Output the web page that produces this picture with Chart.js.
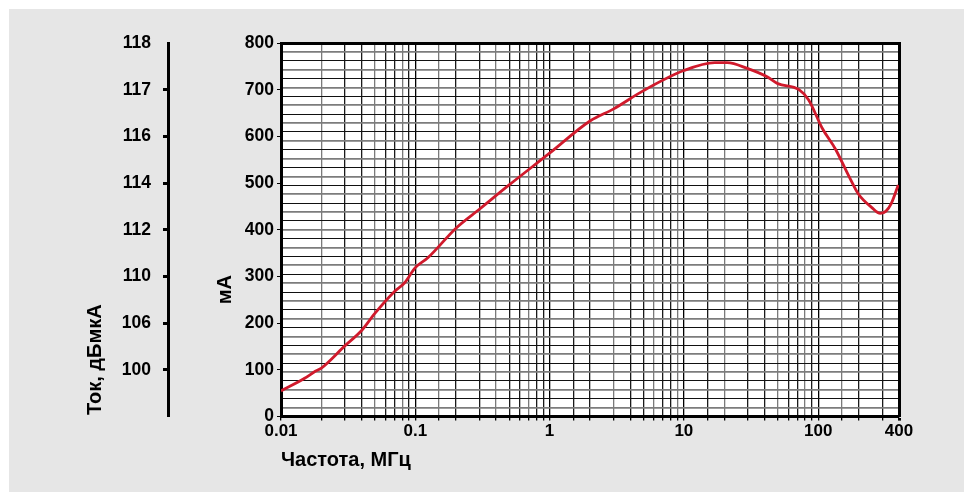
<!DOCTYPE html>
<html>
<head>
<meta charset="utf-8">
<script src="https://cdn.jsdelivr.net/npm/chart.js"></script>
<style>
  html, body { margin: 0; padding: 0; background: #ffffff; }
  #wrap { width: 964px; height: 492px; }
</style>
</head>
<body>
<div id="wrap"><canvas id="chart" width="964" height="492"></canvas></div>
<script>
// frequency, MHz
const freqMHz = [0.01, 0.015, 0.018, 0.02, 0.03, 0.04, 0.05, 0.07, 0.083, 0.1, 0.124, 0.2, 0.3, 0.5, 1, 2, 3, 5, 10, 17, 21, 30, 42, 50, 72, 85, 107, 135, 170, 200, 250, 290, 320, 350, 395];
// current, mA
const currentMa = [55, 82, 97, 104, 152, 185, 221, 268, 286, 319, 340, 403, 444, 496, 564, 633, 659, 698, 741, 758, 758, 745, 727, 713, 700, 678, 618, 572, 514, 476, 448, 435, 440, 456, 496];

const xLabels = [0.01, 0.1, 1, 10, 100, 400];
// left scale: mA positions and their dBuA labels
const dbAtMa = [100, 200, 300, 400, 500, 600, 700, 800];
const dbLabels = ['100', '106', '110', '112', '114', '116', '117', '118'];
const gridRows = 42;

const xTitle = 'Частота, МГц';
const maTitle = 'мА';
const dbTitle = 'Ток, дБмкА';

const FONT = "'Liberation Sans', Arial, sans-serif";

const panel = {
  id: 'panel',
  beforeDraw(chart) {
    const c = chart.ctx, a = chart.chartArea;
    c.save();
    c.fillStyle = '#ffffff';
    c.fillRect(0, 0, chart.width, chart.height);
    c.fillStyle = '#e6e6e6';
    c.fillRect(9, 9, chart.width - 9, chart.height - 9);
    c.fillStyle = '#ffffff';
    c.fillRect(a.left, a.top, a.right - a.left, a.bottom - a.top);
    c.restore();
  },
  afterDraw(chart) {
    const c = chart.ctx, y = chart.scales.y;
    const put = (text, x, yv) => {
      c.save();
      c.fillStyle = '#000';
      c.font = 'bold 20px ' + FONT;
      c.textAlign = 'center';
      c.textBaseline = 'middle';
      c.translate(x, y.getPixelForValue(yv));
      c.rotate(-Math.PI / 2);
      c.fillText(text, 0, 0);
      c.restore();
    };
    put(maTitle, 225, 272);
    put(dbTitle, 95, 122);
  }
};

function isLabelled(v) {
  return xLabels.some(l => Math.abs(v - l) / l < 1e-6);
}

new Chart(document.getElementById('chart'), {
  type: 'line',
  data: {
    datasets: [{
      data: freqMHz.map((f, i) => ({ x: f, y: currentMa[i] })),
      borderColor: '#d01a2c',
      borderWidth: 2.8,
      pointRadius: 0,
      cubicInterpolationMode: 'monotone',
      fill: false,
      yAxisID: 'y'
    }]
  },
  plugins: [panel],
  options: {
    responsive: false,
    animation: false,
    layout: { padding: { top: 43, right: 65, left: 0, bottom: 6 } },
    plugins: { legend: { display: false }, tooltip: { enabled: false } },
    scales: {
      x: {
        type: 'logarithmic',
        min: 0.01,
        max: 400,
        border: { color: '#000', width: 3 },
        grid: {
          color: ctx => {
            const v = ctx.tick ? ctx.tick.value : 0;
            if (v >= 400 || isLabelled(v)) return '#000';
            return ctx.index % 3 === 1 ? '#7a7a7a' : '#1a1a1a';
          },
          lineWidth: ctx => (ctx.tick && ctx.tick.value >= 400) ? 3 : 1.3,
          tickColor: '#000',
          tickLength: 4
        },
        ticks: {
          autoSkip: false,
          maxRotation: 0,
          color: '#000',
          padding: 1,
          font: { family: FONT, size: 17, weight: 'bold' },
          callback: v => isLabelled(v) ? String(v) : ''
        },
        title: {
          display: true,
          text: xTitle,
          align: 'start',
          color: '#000',
          font: { family: FONT, size: 20, weight: 'bold' },
          padding: { top: 5, bottom: 14 }
        }
      },
      y: {
        position: 'left',
        weight: 0,
        min: 0,
        max: 800,
        border: { color: '#000', width: 3 },
        grid: { drawOnChartArea: false, tickColor: '#000', tickLength: 4 },
        ticks: {
          stepSize: 100,
          color: '#000',
          padding: 3,
          font: { family: FONT, size: 17.5, weight: 'bold' }
        },
        afterFit: s => { s.width = 113; }
      },
      yDb: {
        position: 'left',
        weight: 1,
        min: 0,
        max: 800,
        border: { color: '#000', width: 3 },
        grid: {
          drawOnChartArea: false,
          tickColor: ctx => (ctx.tick && ctx.tick.value >= 800) ? 'rgba(0,0,0,0)' : '#000',
          tickLength: 5,
          tickWidth: 3
        },
        afterBuildTicks: s => { s.ticks = dbAtMa.map(v => ({ value: v })); },
        ticks: {
          color: '#000',
          padding: 12,
          font: { family: FONT, size: 17.5, weight: 'bold' },
          callback: (v, i) => dbLabels[i]
        },
        afterFit: s => { s.width = 168; }
      },
      yGrid: {
        position: 'right',
        min: 0,
        max: gridRows,
        border: { color: '#000', width: 3 },
        grid: {
          drawTicks: false,
          color: ctx => {
            if (ctx.index === gridRows) return '#000';
            return ctx.index % 2 ? '#7c7c7c' : '#111111';
          },
          lineWidth: ctx => ctx.index === gridRows ? 3 : (ctx.index % 2 ? 1.8 : 1.1)
        },
        ticks: { display: false, stepSize: 1 },
        afterFit: s => { s.width = 0; }
      }
    }
  }
});
</script>
</body>
</html>
